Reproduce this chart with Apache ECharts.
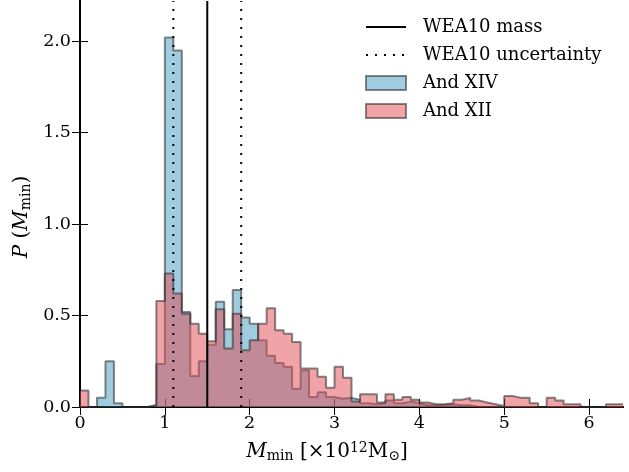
<!DOCTYPE html>
<html lang="en">
<head>
<meta charset="UTF-8">
<title>M_min distribution</title>
<script src="https://cdn.jsdelivr.net/npm/echarts@6/dist/echarts.min.js"></script>
<style>
    html, body { margin: 0; padding: 0; background: #fff; }
    #chart { width: 629px; height: 472px; }
</style>
</head>
<body>
<div id="chart"></div>
<script>
    // histogram bins: 0.1 wide, starting at 0
    var binWidth = 0.1;
    var andXIV = [0, 0, 0.05, 0.25, 0.02, 0, 0, 0, 0.01, 0.235,
                  2.02, 1.95, 0.52, 0.17, 0.25, 0.34, 0.575, 0.425, 0.64, 0.49,
                  0.455, 0.365, 0.28, 0.24, 0.22, 0.10, 0.20, 0.055, 0.08, 0.055,
                  0.045, 0.05, 0.04, 0.02, 0.015, 0.02, 0.035, 0.02, 0.03, 0.02,
                  0.01, 0.01, 0.012, 0.015, 0.01, 0.01, 0, 0, 0, 0,
                  0, 0, 0, 0, 0, 0, 0, 0, 0, 0,
                  0, 0, 0, 0];
    var andXII = [0.09, 0, 0, 0, 0, 0, 0, 0, 0.01, 0.58,
                  0.73, 0.62, 0.51, 0.455, 0.40, 0.36, 0.535, 0.32, 0.51, 0.31,
                  0.365, 0.455, 0.54, 0.42, 0.40, 0.355, 0.21, 0.21, 0.165, 0.105,
                  0.22, 0.16, 0.03, 0.07, 0.07, 0.025, 0.07, 0.04, 0.055, 0.04,
                  0.025, 0.015, 0.015, 0.02, 0.04, 0.05, 0.035, 0.025, 0.015, 0.005,
                  0.06, 0.05, 0.05, 0.02, 0, 0.05, 0.035, 0.015, 0.015, 0,
                  0, 0, 0.015, 0.015];
    var massValue = 1.5;
    var massErr = [1.1, 1.9];
    var xTicks = [0, 1, 2, 3, 4, 5, 6];
    var yTicks = [0, 0.5, 1, 1.5, 2];
    var xMax = 6.4, yMax = 2.22;

    var font = 'DejaVu Serif';
    var blueFill = 'rgba(66,154,194,0.5)';
    var redFill = 'rgba(225,74,82,0.5)';
    var edge = 'rgba(40,40,40,0.55)';

    function stepData(vals){
        var d = [];
        for (var i = 0; i < vals.length; i++) d.push([+(i * binWidth).toFixed(2), vals[i]]);
        d.push([+(vals.length * binWidth).toFixed(2), vals[vals.length - 1]]);
        return d;
    }
    function vline(x){
        return [[x, 0], [x, yMax]];
    }

    var chart = echarts.init(document.getElementById('chart'));
    var tickStyle = {color: '#000', width: 1};
    var axisBase = {
        axisLine: {show: true, lineStyle: {color: '#000', width: 2}},
        splitLine: {show: false}
    };
    chart.setOption({
        animation: false,
        grid: {left: 80, right: 6, top: 1, bottom: 65},
        xAxis: [
            Object.assign({
                type: 'value', min: 0, max: xMax, position: 'bottom',
                axisTick: {inside: true, length: 8, lineStyle: tickStyle, customValues: xTicks},
                axisLabel: {customValues: xTicks, margin: 7, fontFamily: font, fontSize: 17.5, color: '#000'}
            }, axisBase),
            Object.assign({
                type: 'value', min: 0, max: xMax, position: 'top',
                axisTick: {inside: true, length: 8, lineStyle: tickStyle, customValues: xTicks},
                axisLabel: {show: false}
            }, axisBase)
        ],
        yAxis: [
            Object.assign({
                type: 'value', min: 0, max: yMax, position: 'left',
                axisTick: {inside: true, length: 8, lineStyle: tickStyle, customValues: yTicks},
                axisLabel: {customValues: yTicks, margin: 9, fontFamily: font, fontSize: 17.5, color: '#000',
                    formatter: function(v){ return v.toFixed(1); }}
            }, axisBase),
            Object.assign({
                type: 'value', min: 0, max: yMax, position: 'right',
                axisTick: {inside: true, length: 8, lineStyle: tickStyle, customValues: yTicks},
                axisLabel: {show: false}
            }, axisBase)
        ],
        legend: {
            orient: 'vertical', left: 360, top: 13,
            itemWidth: 40, itemHeight: 14, itemGap: 10,
            textStyle: {fontFamily: font, fontSize: 18, color: '#000', padding: [0, 0, 0, 12]},
            data: [
                {name: 'WEA10 mass', itemStyle: {opacity: 0}},
                {name: 'WEA10 uncertainty', itemStyle: {opacity: 0}},
                {name: 'And XIV', icon: 'rect', itemStyle: {color: blueFill, borderColor: edge, borderWidth: 2}},
                {name: 'And XII', icon: 'rect', itemStyle: {color: redFill, borderColor: edge, borderWidth: 2}}
            ]
        },
        series: [
            {
                name: 'And XIV', type: 'line', step: 'end', symbol: 'none', z: 2,
                data: stepData(andXIV),
                lineStyle: {color: edge, width: 2},
                itemStyle: {color: blueFill},
                areaStyle: {color: blueFill, opacity: 1}
            },
            {
                name: 'And XII', type: 'line', step: 'end', symbol: 'none', z: 3,
                data: stepData(andXII),
                lineStyle: {color: edge, width: 2},
                itemStyle: {color: redFill},
                areaStyle: {color: redFill, opacity: 1}
            },
            {
                name: 'WEA10 mass', type: 'line', symbol: 'none', z: 5,
                data: vline(massValue),
                itemStyle: {color: '#000'},
                lineStyle: {color: '#000', width: 2}
            },
            {
                name: 'WEA10 uncertainty', type: 'line', symbol: 'none', z: 5,
                data: vline(massErr[0]),
                itemStyle: {color: '#000'},
                lineStyle: {color: '#000', width: 2, type: [2, 7]}
            },
            {
                name: 'WEA10 uncertainty', type: 'line', symbol: 'none', z: 5,
                data: vline(massErr[1]),
                itemStyle: {color: '#000'},
                lineStyle: {color: '#000', width: 2, type: [2, 7]}
            }
        ],
        graphic: [
            {
                type: 'text', x: 327, y: 452,
                style: {
                    text: '{it|M}{sub|min} [×10{sup|12}M{sub|⊙}]',
                    align: 'center', verticalAlign: 'middle',
                    fontFamily: font, fontSize: 20, fill: '#000',
                    rich: {
                        it: {fontFamily: font, fontSize: 20, fontStyle: 'italic'},
                        sub: {fontFamily: font, fontSize: 14, padding: [8, 0, 0, 0]},
                        sup: {fontFamily: font, fontSize: 14, padding: [0, 0, 8, 0]}
                    }
                }
            },
            {
                type: 'text', x: 22, y: 217, rotation: Math.PI / 2,
                style: {
                    text: '{it|P} ({it|M}{sub|min})',
                    align: 'center', verticalAlign: 'middle',
                    fontFamily: font, fontSize: 20, fill: '#000',
                    rich: {
                        it: {fontFamily: font, fontSize: 20, fontStyle: 'italic'},
                        sub: {fontFamily: font, fontSize: 14, padding: [8, 0, 0, 0]}
                    }
                }
            }
        ]
    });
</script>
</body>
</html>
